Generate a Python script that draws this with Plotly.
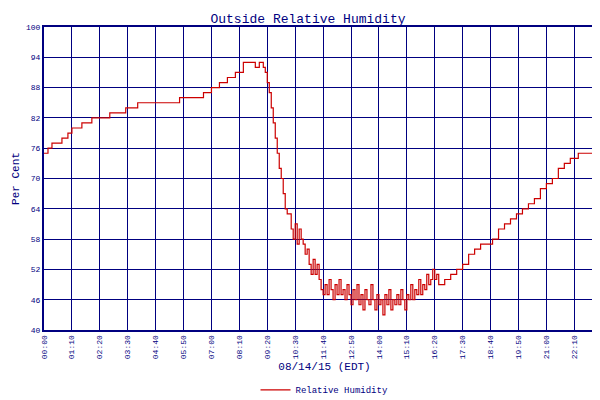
import plotly.graph_objects as go

# minutes since midnight and relative humidity (%)
minutes = [0, 10, 20, 45, 60, 70, 95, 120, 150, 165, 205, 235, 300, 340, 400, 420, 440, 460, 480, 500,
           520, 530, 540, 550, 555, 560, 565, 570, 575, 580, 585, 590, 595, 600, 605, 610, 615, 620,
           625, 630, 635, 640, 645, 650, 655, 660, 665, 670, 675, 680, 685, 690, 695, 700, 705, 710,
           715, 720, 725, 730, 735, 740, 745, 750, 755, 760, 765, 770, 775, 780, 785, 790, 795, 800,
           805, 810, 815, 820, 825, 830, 835, 840, 845, 850, 855, 860, 865, 870, 875, 880, 885, 890,
           895, 900, 905, 910, 915, 920, 925, 930, 935, 940, 945, 950, 955, 960, 965, 970, 975, 980,
           985, 990, 1005, 1020, 1035, 1050, 1065, 1080, 1095, 1110, 1125, 1140, 1155, 1170, 1185,
           1200, 1215, 1230, 1245, 1260, 1275, 1290, 1305, 1320, 1340, 1360, 1390, 1407]
humidity = [75, 76, 77, 78, 79, 80, 81, 82, 82, 83, 84, 85, 85, 86, 87, 88, 89, 90, 91, 93,
            93, 92, 93, 92, 91, 89, 87, 84, 81, 78, 75, 72, 70, 67, 64, 63, 63, 60,
            58, 61, 57, 60, 58, 57, 55, 56, 53, 51, 54, 51, 53, 50, 48, 47, 49, 47,
            50, 48, 46, 49, 47, 50, 47, 48, 46, 49, 47, 45, 48, 46, 49, 45, 47, 44,
            48, 46, 45, 49, 46, 44, 47, 45, 46, 43, 47, 45, 48, 44, 46, 45, 47, 45,
            48, 46, 44, 47, 46, 49, 46, 48, 47, 50, 47, 49, 48, 51, 49, 50, 52, 50,
            51, 49, 50, 51, 52, 53, 55, 56, 57, 57, 58, 60, 61, 62, 63,
            64, 65, 66, 68, 69, 70, 72, 73, 74, 75, 75, 75, 76]

tick_vals = [0, 70, 140, 210, 280, 350, 420, 490, 560, 630, 700, 770, 840, 910, 980,
             1050, 1120, 1190, 1260, 1330, 1400]
tick_text = ["00:00", "01:10", "02:20", "03:30", "04:40", "05:50", "07:00", "08:10", "09:20",
             "10:30", "11:40", "12:50", "14:00", "15:10", "16:20", "17:30", "18:40", "19:50",
             "21:00", "22:10", "23:20"]
y_ticks = [40, 46, 52, 58, 64, 70, 76, 82, 88, 94, 100]

navy = "#000080"
font = "Liberation Mono"

fig = go.Figure(go.Scatter(x=minutes, y=humidity, mode="lines", line_shape="hv",
                           line=dict(color="#cc0000", width=1.2), name="Relative Humidity"))
fig.update_layout(
    width=600, height=400,
    margin=dict(l=36, r=3, t=19, b=64),
    paper_bgcolor="white", plot_bgcolor="white",
    font=dict(family=font, color=navy, size=9),
    title=dict(text="Outside Relative Humidity", x=0.5, y=0.985, yanchor="top",
               font=dict(size=13, color=navy, family=font)),
    showlegend=True,
    legend=dict(orientation="h", x=0.5, xanchor="center", y=-0.15, yanchor="top",
                font=dict(size=9, color=navy)),
)
fig.update_xaxes(range=[0, 1407], tickvals=tick_vals, ticktext=tick_text, tickangle=-90,
                 showgrid=True, gridcolor=navy, gridwidth=1, showline=True, linecolor=navy,
                 linewidth=2, mirror=True, zeroline=False, tickfont=dict(size=8), automargin=False,
                 title=dict(text="08/14/15 (EDT)", font=dict(size=11, color=navy), standoff=4))
fig.update_yaxes(range=[40, 100], tickvals=y_ticks, showgrid=True, gridcolor=navy, gridwidth=1,
                 showline=True, linecolor=navy, linewidth=2, mirror=True, zeroline=False,
                 tickfont=dict(size=8), automargin=False,
                 title=dict(text="Per Cent", font=dict(size=11, color=navy), standoff=4))
fig.write_html("out.html")
